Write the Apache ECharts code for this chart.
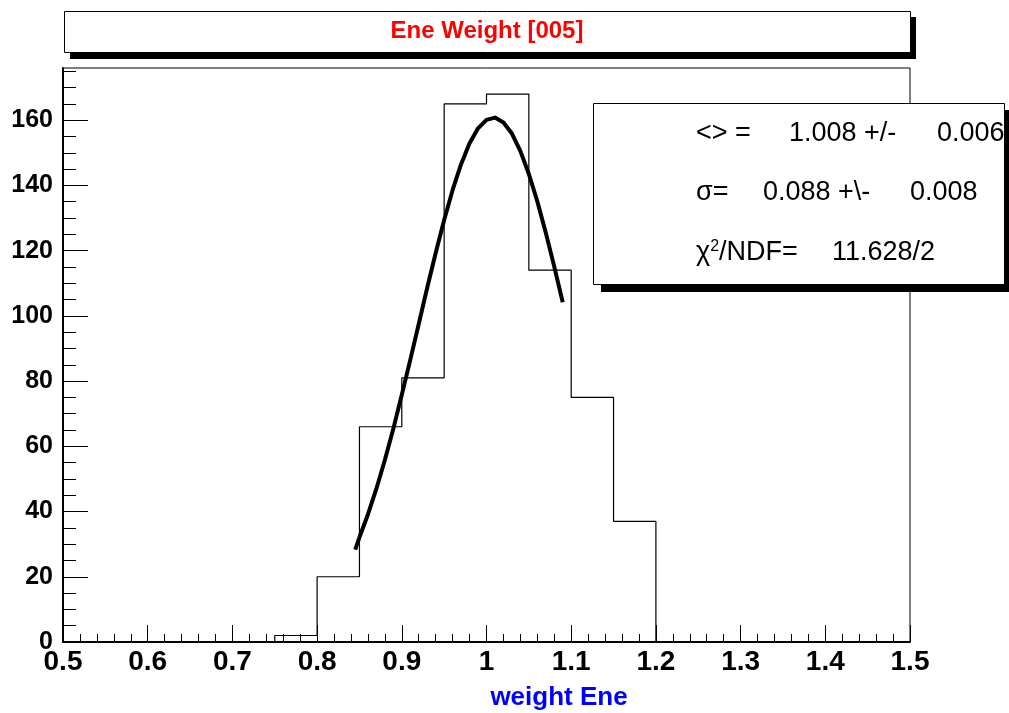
<!DOCTYPE html>
<html>
<head>
<meta charset="utf-8">
<script src="https://cdn.jsdelivr.net/npm/echarts@6/dist/echarts.min.js"></script>
<style>html,body{margin:0;padding:0;background:#fff}#c{width:1009px;height:713px}</style>
</head>
<body>
<div id="c"></div>
<script>
// ---- data ----
const binLow   = [0.75, 0.80, 0.85, 0.90, 0.95, 1.00, 1.05, 1.10, 1.15];
const binHigh  = [0.80, 0.85, 0.90, 0.95, 1.00, 1.05, 1.10, 1.15, 1.20];
const binCount = [2, 20, 66, 81, 165, 168, 114, 75, 37];
// fitted curve, points
const fitX = [0.845, 0.85, 0.86, 0.87, 0.88, 0.89, 0.90, 0.91, 0.92, 0.93, 0.94, 0.95, 0.96, 0.97, 0.98, 0.99,
              1.00, 1.01, 1.02, 1.03, 1.04, 1.05, 1.06, 1.07, 1.08, 1.09];
const fitY = [28.3, 32.1, 39.1, 47.0, 55.8, 65.4, 75.8, 86.5, 97.5, 108.6, 119.3, 129.4, 138.6, 146.5, 152.9, 157.5,
              160.1, 160.8, 159.3, 155.9, 150.5, 143.5, 135.1, 125.5, 115.1, 104.2];
const xTickValues = [0.5, 0.6, 0.7, 0.8, 0.9, 1.0, 1.1, 1.2, 1.3, 1.4, 1.5];
const xTickLabels = ['0.5', '0.6', '0.7', '0.8', '0.9', '1', '1.1', '1.2', '1.3', '1.4', '1.5'];
const yTickValues = [0, 20, 40, 60, 80, 100, 120, 140, 160];
const yTickLabels = ['0', '20', '40', '60', '80', '100', '120', '140', '160'];
const titleText = 'Ene Weight [005]';
const xTitle = 'weight Ene';
const statLines = [
  ['<> =', '1.008 +/-', '0.006'],
  ['σ=', '0.088 +\\-', '0.008'],
  ['{n|χ}{s|2}{n|/NDF=}', '11.628/2', '']
];

// ---- build ----
const histPts = [];
for (let i = 0; i < binLow.length; i++) {
  if (i === 0) histPts.push([binLow[i], 0]);
  histPts.push([binLow[i], binCount[i]]);
  histPts.push([binHigh[i], binCount[i]]);
}
histPts.push([binHigh[binHigh.length - 1], 0]);
const fitPts = fitX.map((x, i) => [x, fitY[i]]);
const yMinor = [];
for (let v = 0; v <= 175; v += 5) yMinor.push(v);

const FONT = '"Liberation Sans", Arial, Helvetica, sans-serif';
const chart = echarts.init(document.getElementById('c'), null, {renderer: 'canvas'});

const statXs = [[696, 789, 937], [696, 763, 910], [696, 832, 0]];
const statY = [134, 193, 253];
const statGraphics = [];
statLines.forEach((parts, li) => {
  parts.forEach((t, pi) => {
    if (!t) return;
    statGraphics.push({
      type: 'text', left: statXs[li][pi], top: statY[li] - 14, z: 20,
      style: {
        text: t, fill: '#000', font: '27px ' + FONT,
        rich: {n: {fontSize: 27, fontFamily: FONT, fill: '#000'}, s: {fontSize: 16, fontFamily: FONT, fill: '#000', verticalAlign: 'top', padding: [0, 0, 12, 0]}}
      }
    });
  });
});

chart.setOption({
  animation: false,
  backgroundColor: '#fff',
  grid: {left: 63, right: 99, top: 68, bottom: 71, show: true, borderColor: '#000', borderWidth: 1, backgroundColor: 'transparent'},
  xAxis: {
    type: 'value', min: 0.5, max: 1.5, interval: 0.1,
    axisLine: {show: true, onZero: false, lineStyle: {color: '#000', width: 2}},
    axisTick: {show: true, inside: true, length: 17, lineStyle: {color: '#000', width: 1}},
    minorTick: {show: true, splitNumber: 5, length: 8, lineStyle: {color: '#000', width: 1}},
    splitLine: {show: false},
    axisLabel: {
      margin: 6, color: '#000', fontSize: 28, fontWeight: 'bold', fontFamily: FONT,
      formatter: v => { const i = xTickValues.findIndex(t => Math.abs(t - v) < 1e-6); return i >= 0 ? xTickLabels[i] : ''; }
    }
  },
  yAxis: [{
    type: 'value', min: 0, max: 176, position: 'left',
    axisLine: {show: true, onZero: false, lineStyle: {color: '#000', width: 2}},
    axisTick: {show: true, inside: true, length: 25, customValues: yTickValues, lineStyle: {color: '#000', width: 1}},
    splitLine: {show: false},
    axisLabel: {
      margin: 10, color: '#000', fontSize: 25, fontWeight: 'bold', fontFamily: FONT,
      customValues: yTickValues,
      formatter: v => { const i = yTickValues.indexOf(v); return i >= 0 ? yTickLabels[i] : ''; }
    }
  }, {
    type: 'value', min: 0, max: 176, position: 'left',
    axisLine: {show: false},
    axisTick: {show: true, inside: true, length: 13, customValues: yMinor, lineStyle: {color: '#000', width: 1}},
    axisLabel: {show: false},
    splitLine: {show: false}
  }],
  series: [{
    type: 'line', data: histPts, showSymbol: false, symbol: 'none',
    lineStyle: {color: '#000', width: 1.2}, z: 3, silent: true
  }, {
    type: 'line', data: fitPts, smooth: false, showSymbol: false, symbol: 'none',
    lineStyle: {color: '#000', width: 4, cap: 'butt', join: 'round'}, z: 4, silent: true
  }],
  graphic: [
    {type: 'rect', shape: {x: 70, y: 17, width: 846, height: 42}, style: {fill: '#000'}, z: 10},
    {type: 'rect', shape: {x: 64.5, y: 11.5, width: 846, height: 41}, style: {fill: '#fff', stroke: '#000', lineWidth: 1}, z: 11},
    {type: 'text', x: 487, y: 31, z: 12, style: {text: titleText, fill: '#ff0000', font: 'bold 24px ' + FONT, align: 'center', verticalAlign: 'middle'}},
    {type: 'rect', shape: {x: 601, y: 110, width: 412, height: 182}, style: {fill: '#000'}, z: 15},
    {type: 'rect', shape: {x: 593.5, y: 103.5, width: 411, height: 181}, style: {fill: '#fff', stroke: '#000', lineWidth: 1}, z: 16},
    {type: 'text', x: 559, y: 698, z: 12, style: {text: xTitle, fill: '#0000ff', font: 'bold 26px ' + FONT, align: 'center', verticalAlign: 'middle'}}
  ].concat(statGraphics)
});
</script>
</body>
</html>
